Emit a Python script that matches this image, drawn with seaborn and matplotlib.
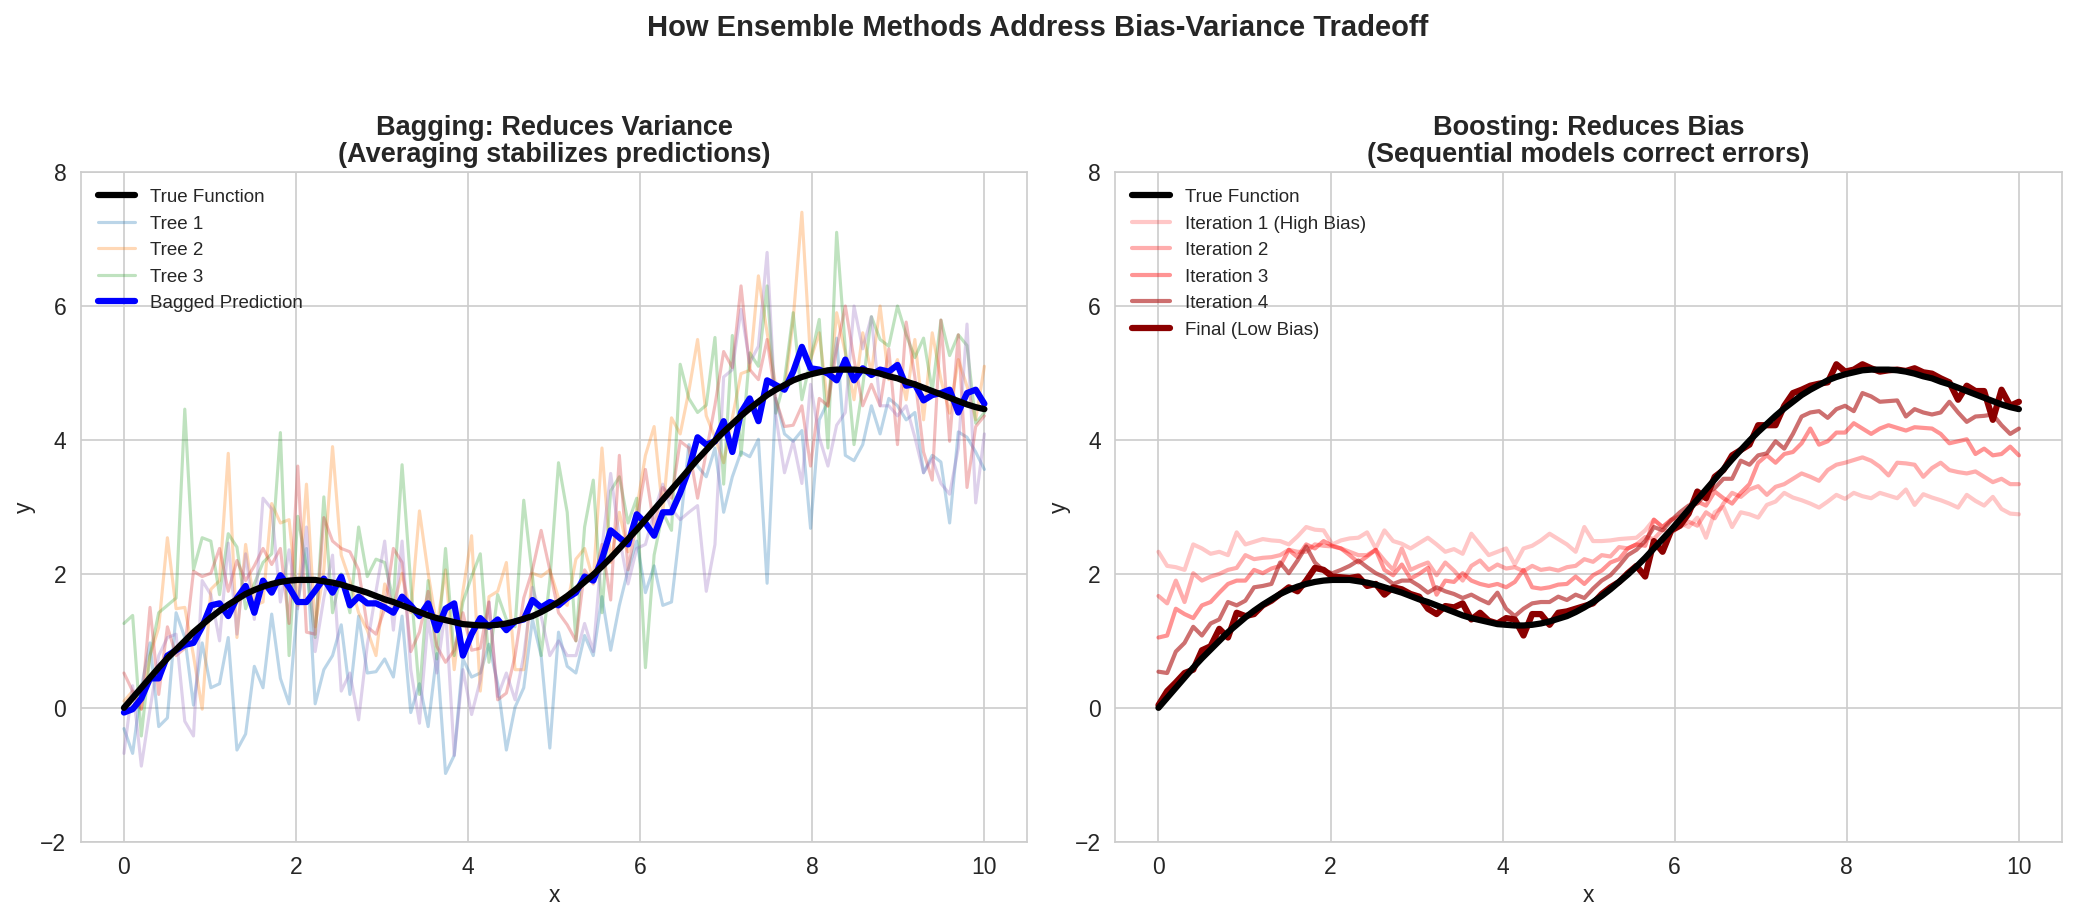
""" Ensemble methods: bagging vs boosting, bias-variance illustration.
"""

###########
# Imports #
###########
import numpy as np
import matplotlib
matplotlib.use("Agg")
from matplotlib import pyplot as plt
import seaborn as sns


########
# Data #
########
# 100 samples over 0..10, shared by every series
x_pts = np.linspace(0, 10, 100)

true_fn = [0.00, 0.15, 0.30, 0.45, 0.60, 0.74, 0.87, 1.00, 1.13, 1.24,
           1.35, 1.45, 1.54, 1.62, 1.70, 1.76, 1.81, 1.85, 1.88, 1.90,
           1.91, 1.91, 1.91, 1.89, 1.87, 1.84, 1.80, 1.76, 1.72, 1.67,
           1.62, 1.58, 1.53, 1.48, 1.43, 1.38, 1.34, 1.31, 1.28, 1.25,
           1.24, 1.23, 1.23, 1.24, 1.26, 1.29, 1.33, 1.37, 1.43, 1.50,
           1.58, 1.67, 1.77, 1.88, 1.99, 2.11, 2.24, 2.38, 2.52, 2.66,
           2.81, 2.96, 3.11, 3.26, 3.41, 3.56, 3.71, 3.85, 3.99, 4.12,
           4.24, 4.36, 4.47, 4.57, 4.67, 4.75, 4.82, 4.89, 4.94, 4.98,
           5.01, 5.04, 5.05, 5.05, 5.05, 5.04, 5.02, 4.99, 4.95, 4.92,
           4.87, 4.83, 4.78, 4.73, 4.68, 4.63, 4.58, 4.53, 4.49, 4.46]

# Bagging: individual trees
tree_1 = [-0.31, -0.68, 0.30, 0.97, -0.28, -0.15, 1.42, 1.05, 0.04, 0.97,
          0.30, 0.36, 1.05, -0.63, -0.39, 0.62, 0.30, 1.40, 0.44, 0.06,
          1.58, 2.38, 0.06, 0.57, 0.78, 1.24, 0.20, 1.37, 0.52, 0.54,
          0.73, 0.46, 1.37, -0.07, 0.36, -0.28, 0.81, -0.98, -0.71, 0.73,
          0.46, 0.52, 0.95, 0.36, -0.63, 0.01, 0.30, 1.32, 0.78, -0.60,
          1.13, 0.62, 0.52, 1.08, 0.78, 1.66, 0.86, 1.53, 2.06, 2.49,
          1.72, 2.12, 1.53, 1.58, 2.70, 3.93, 3.61, 3.45, 3.88, 2.92,
          3.45, 3.82, 3.75, 4.01, 1.86, 4.62, 4.09, 3.98, 4.14, 2.68,
          4.30, 4.57, 5.52, 3.77, 3.69, 3.93, 4.51, 4.09, 4.62, 4.51,
          4.30, 4.41, 3.51, 3.77, 3.67, 2.76, 4.12, 4.04, 3.82, 3.56]

tree_2 = [0.10, 0.25, -0.02, 0.78, 1.20, 2.54, 1.48, 1.50, 0.78, -0.02,
          1.77, 1.90, 3.80, 1.05, 2.44, 1.53, 1.58, 3.05, 2.76, 2.81,
          1.53, 3.34, 1.21, 2.06, 3.90, 2.28, 1.90, 1.42, 1.16, 0.78,
          1.85, 1.53, 2.01, 1.42, 2.94, 2.01, 1.21, 2.06, 0.57, 1.74,
          2.57, 0.25, 1.66, 1.74, 2.17, 0.57, 0.57, 2.01, 1.96, 2.06,
          1.64, 1.53, 2.22, 2.38, 1.90, 3.88, 2.17, 2.92, 2.33, 2.97,
          3.77, 4.20, 2.92, 4.33, 4.09, 4.73, 5.50, 4.36, 4.04, 3.66,
          4.33, 4.99, 5.04, 6.45, 5.60, 4.80, 4.73, 5.80, 7.40, 5.20,
          5.60, 4.50, 5.90, 5.30, 4.60, 5.60, 5.00, 6.00, 4.90, 5.20,
          4.60, 5.50, 4.30, 5.60, 4.90, 4.40, 5.20, 4.80, 4.30, 5.10]

tree_3 = [1.26, 1.38, -0.42, 0.78, 1.42, 1.53, 1.64, 4.46, 2.06, 2.54,
          2.49, 1.69, 2.60, 2.40, 1.48, 1.85, 2.17, 2.30, 4.11, 0.78,
          2.86, 2.10, 1.05, 3.15, 1.42, 2.00, 1.42, 2.70, 1.96, 2.22,
          2.17, 1.60, 3.63, 1.85, 0.20, 1.90, 0.73, 2.38, 0.78, 1.58,
          1.96, 2.30, 0.68, 1.69, 1.32, 1.21, 3.10, 1.96, 0.78, 1.90,
          3.66, 2.92, 1.00, 2.70, 3.40, 1.42, 3.24, 3.45, 2.76, 3.13,
          0.60, 2.28, 2.92, 2.65, 5.13, 4.62, 4.41, 4.52, 5.53, 3.34,
          5.56, 3.77, 5.30, 5.10, 6.30, 4.40, 4.89, 5.90, 4.60, 5.20,
          5.80, 3.88, 7.10, 5.36, 3.93, 4.80, 5.84, 5.50, 5.40, 6.00,
          5.57, 5.23, 5.52, 4.73, 5.79, 5.26, 5.57, 5.41, 4.25, 4.41]

tree_4 = [0.52, 0.25, -0.02, 1.50, 0.20, 1.21, 0.78, 0.89, 2.04, 1.96,
          2.01, 2.38, 1.74, 2.20, 1.90, 2.12, 2.38, 2.14, 2.38, 1.26,
          3.61, 1.13, 1.10, 2.84, 2.49, 2.38, 2.33, 2.06, 1.21, 1.10,
          1.48, 2.38, 2.17, 0.84, 1.13, 1.74, 0.92, 0.68, 0.86, 1.42,
          0.86, 0.89, 1.58, 0.12, 0.22, 0.78, 1.64, 2.06, 2.65, 2.06,
          1.42, 1.24, 1.00, 2.06, 1.85, 2.44, 1.61, 3.77, 2.06, 2.78,
          3.56, 2.70, 3.29, 3.13, 3.98, 3.88, 3.13, 3.82, 4.52, 5.32,
          5.08, 6.30, 5.05, 4.90, 5.50, 4.60, 4.20, 4.22, 4.51, 3.61,
          4.62, 4.51, 5.36, 6.00, 5.20, 4.51, 4.83, 4.51, 5.36, 3.93,
          5.76, 4.94, 3.82, 3.40, 5.79, 3.98, 5.57, 3.29, 4.20, 4.36]

tree_5 = [-0.68, 0.33, -0.87, -0.02, 0.78, 1.05, 1.10, -0.20, -0.42, 1.90,
          1.69, 1.00, 2.46, 1.10, 2.30, 1.32, 3.13, 2.97, 1.58, 2.36,
          1.48, 2.70, 0.84, 1.64, 2.28, 0.25, 0.52, -0.18, 0.94, 1.74,
          2.49, 1.16, 2.49, 0.57, -0.23, 1.32, 0.52, 1.48, -0.71, 0.57,
          -0.10, 0.41, 1.58, 0.17, 0.52, 0.12, 0.78, 1.80, 1.37, 0.78,
          1.00, 0.78, 0.78, 1.26, 0.84, 2.38, 3.50, 2.54, 1.85, 2.38,
          2.44, 2.92, 3.34, 2.97, 2.81, 2.92, 3.02, 1.74, 2.44, 4.94,
          5.05, 5.95, 5.15, 5.40, 6.80, 4.36, 3.51, 3.98, 3.35, 4.83,
          4.04, 3.61, 4.22, 4.41, 6.00, 5.36, 5.84, 4.51, 4.51, 4.36,
          4.51, 4.04, 3.51, 3.72, 3.35, 3.19, 3.88, 5.73, 3.06, 4.09]

bagged = [-0.07, -0.02, 0.14, 0.44, 0.44, 0.78, 0.86, 0.94, 0.97, 1.21,
          1.53, 1.56, 1.37, 1.64, 1.82, 1.42, 1.90, 1.72, 1.98, 1.80,
          1.58, 1.58, 1.75, 1.93, 1.72, 1.96, 1.53, 1.66, 1.56, 1.56,
          1.50, 1.42, 1.66, 1.53, 1.37, 1.56, 1.16, 1.48, 1.56, 0.78,
          1.10, 1.34, 1.21, 1.32, 1.16, 1.29, 1.32, 1.61, 1.50, 1.58,
          1.53, 1.64, 1.72, 1.96, 1.90, 2.22, 2.65, 2.54, 2.44, 2.89,
          2.76, 2.57, 2.92, 2.92, 3.21, 3.56, 4.04, 3.93, 3.98, 4.28,
          3.82, 4.41, 4.62, 4.28, 4.89, 4.82, 4.75, 5.02, 5.39, 5.07,
          5.05, 4.99, 4.89, 5.20, 4.89, 5.07, 4.97, 5.05, 5.02, 5.12,
          4.81, 4.83, 4.59, 4.67, 4.70, 4.75, 4.41, 4.70, 4.75, 4.54]

trees = [tree_1, tree_2, tree_3, tree_4, tree_5]
tree_labels = ['Tree 1', 'Tree 2', 'Tree 3', '_nolegend_', '_nolegend_']

# Boosting: successive iterations
iter_1 = [2.33, 2.12, 2.10, 2.06, 2.44, 2.38, 2.30, 2.33, 2.28, 2.62,
          2.44, 2.48, 2.52, 2.50, 2.49, 2.44, 2.56, 2.70, 2.66, 2.65,
          2.44, 2.50, 2.53, 2.54, 2.62, 2.38, 2.65, 2.49, 2.45, 2.38,
          2.46, 2.54, 2.44, 2.33, 2.37, 2.30, 2.60, 2.44, 2.28, 2.33,
          2.38, 2.14, 2.38, 2.42, 2.50, 2.60, 2.52, 2.44, 2.33, 2.70,
          2.49, 2.49, 2.50, 2.52, 2.53, 2.54, 2.65, 2.81, 2.70, 2.81,
          2.76, 2.70, 2.84, 2.54, 2.92, 3.00, 2.70, 2.92, 2.89, 2.84,
          3.03, 3.08, 3.21, 3.14, 3.10, 3.05, 2.99, 3.08, 3.18, 3.12,
          3.21, 3.16, 3.13, 3.21, 3.17, 3.13, 3.26, 3.03, 3.19, 3.14,
          3.10, 3.05, 2.99, 3.18, 3.09, 3.02, 3.15, 2.97, 2.90, 2.89]

iter_2 = [1.67, 1.56, 1.90, 1.58, 2.01, 1.90, 1.96, 2.00, 2.06, 2.09,
          2.28, 2.22, 2.24, 2.25, 2.28, 2.36, 2.33, 2.33, 2.44, 2.42,
          2.41, 2.38, 2.33, 2.28, 2.28, 2.36, 2.20, 2.06, 2.38, 2.06,
          2.12, 2.17, 1.98, 2.17, 2.05, 1.90, 2.12, 2.20, 2.06, 2.14,
          2.08, 2.10, 2.04, 2.12, 2.06, 2.08, 2.05, 2.10, 2.12, 2.22,
          2.18, 2.28, 2.26, 2.40, 2.38, 2.44, 2.55, 2.52, 2.66, 2.62,
          2.70, 2.78, 2.72, 2.92, 2.83, 3.05, 3.21, 3.15, 3.26, 3.31,
          3.18, 3.30, 3.34, 3.42, 3.50, 3.45, 3.39, 3.55, 3.63, 3.66,
          3.70, 3.74, 3.69, 3.60, 3.47, 3.66, 3.65, 3.63, 3.45, 3.58,
          3.66, 3.55, 3.52, 3.50, 3.53, 3.45, 3.37, 3.42, 3.34, 3.34]

iter_3 = [1.05, 1.08, 1.48, 1.40, 1.34, 1.53, 1.58, 1.72, 1.85, 1.90,
          1.90, 2.06, 2.01, 2.08, 2.12, 2.36, 2.25, 2.44, 2.38, 2.49,
          2.42, 2.38, 2.28, 2.17, 2.26, 2.36, 2.06, 1.98, 2.14, 1.93,
          2.00, 2.09, 1.69, 1.90, 1.88, 2.01, 1.90, 1.85, 1.82, 1.85,
          1.80, 1.88, 2.06, 1.80, 1.78, 1.80, 1.84, 1.85, 1.96, 1.85,
          1.98, 2.05, 2.17, 2.22, 2.38, 2.44, 2.42, 2.81, 2.70, 2.81,
          2.86, 2.92, 3.08, 3.02, 3.23, 3.13, 3.05, 3.21, 3.34, 3.66,
          3.77, 3.66, 3.79, 3.82, 3.95, 4.17, 3.93, 3.98, 4.11, 4.11,
          4.25, 4.17, 4.09, 4.17, 4.22, 4.18, 4.14, 4.19, 4.18, 4.17,
          4.09, 3.95, 3.98, 4.01, 3.79, 3.87, 3.77, 3.79, 3.90, 3.77]

iter_4 = [0.54, 0.52, 0.84, 0.97, 1.21, 1.08, 1.26, 1.32, 1.58, 1.53,
          1.60, 1.80, 1.82, 1.85, 2.17, 2.01, 2.20, 2.41, 2.17, 2.05,
          2.01, 2.06, 2.12, 2.20, 2.10, 2.01, 1.95, 1.85, 1.90, 1.90,
          1.82, 1.72, 1.80, 1.74, 1.70, 1.64, 1.69, 1.62, 1.56, 1.72,
          1.48, 1.37, 1.48, 1.56, 1.58, 1.58, 1.66, 1.61, 1.69, 1.64,
          1.78, 1.90, 1.98, 2.12, 2.28, 2.36, 2.49, 2.70, 2.65, 2.80,
          2.92, 3.02, 3.05, 3.20, 3.28, 3.42, 3.42, 3.69, 3.63, 3.77,
          3.80, 3.98, 3.87, 4.09, 4.35, 4.41, 4.43, 4.33, 4.46, 4.51,
          4.43, 4.70, 4.65, 4.57, 4.58, 4.59, 4.35, 4.46, 4.41, 4.38,
          4.41, 4.57, 4.41, 4.27, 4.35, 4.36, 4.38, 4.22, 4.09, 4.17]

final = [0.04, 0.25, 0.38, 0.52, 0.57, 0.86, 0.92, 1.18, 1.05, 1.42,
         1.37, 1.40, 1.53, 1.60, 1.70, 1.80, 1.74, 1.90, 2.09, 2.06,
         1.96, 1.95, 1.94, 1.96, 1.82, 1.85, 1.69, 1.80, 1.77, 1.70,
         1.66, 1.48, 1.40, 1.52, 1.50, 1.56, 1.32, 1.42, 1.30, 1.26,
         1.34, 1.32, 1.08, 1.40, 1.40, 1.24, 1.42, 1.44, 1.48, 1.52,
         1.56, 1.70, 1.80, 1.88, 2.01, 2.12, 1.96, 2.49, 2.33, 2.65,
         2.72, 2.90, 3.23, 3.13, 3.45, 3.55, 3.77, 3.85, 3.93, 4.22,
         4.22, 4.22, 4.51, 4.70, 4.75, 4.81, 4.84, 4.86, 5.13, 5.02,
         5.05, 5.13, 5.07, 5.02, 5.04, 5.05, 5.03, 5.07, 5.01, 4.99,
         4.92, 4.86, 4.60, 4.81, 4.73, 4.73, 4.30, 4.75, 4.51, 4.57]

iterations = [iter_1, iter_2, iter_3, iter_4]
iter_labels = ['Iteration 1 (High Bias)', 'Iteration 2', 'Iteration 3', 'Iteration 4']
iter_colors = [('red', 0.22), ('red', 0.32), ('red', 0.42), ('firebrick', 0.65)]


#########
# Style #
#########
sns.set_style('whitegrid')
plt.rcParams['font.family'] = ['Liberation Sans', 'DejaVu Sans']


#########
# Plots #
#########
fig, (ax0, ax1) = plt.subplots(nrows=1, ncols=2, figsize=(2075 / 150, 920 / 150), dpi=150)
fig.subplots_adjust(left=0.039, right=0.9937, bottom=0.085, top=0.813, wspace=0.093)

# Bagging
sns.lineplot(ax=ax0, x=x_pts, y=true_fn, color='black', linewidth=3,
             label='True Function', zorder=5)
tab = sns.color_palette('tab10')
for i, (vals, name) in enumerate(zip(trees, tree_labels)):
    sns.lineplot(ax=ax0, x=x_pts, y=vals, color=tab[i], alpha=0.3,
                 linewidth=1.5, label=name)
sns.lineplot(ax=ax0, x=x_pts, y=bagged, color='blue', linewidth=3,
             label='Bagged Prediction', zorder=4)
ax0.set_title('Bagging: Reduces Variance\n(Averaging stabilizes predictions)',
              fontsize=13, fontweight='bold', linespacing=1.05, pad=5)

# Boosting
sns.lineplot(ax=ax1, x=x_pts, y=true_fn, color='black', linewidth=3,
             label='True Function', zorder=5)
for vals, name, (col, a) in zip(iterations, iter_labels, iter_colors):
    sns.lineplot(ax=ax1, x=x_pts, y=vals, color=col, alpha=a,
                 linewidth=2, label=name)
sns.lineplot(ax=ax1, x=x_pts, y=final, color='darkred', linewidth=3,
             label='Final (Low Bias)', zorder=4)
ax1.set_title('Boosting: Reduces Bias\n(Sequential models correct errors)',
              fontsize=13, fontweight='bold', linespacing=1.05, pad=5)

for ax in (ax0, ax1):
    ax.set_xlim(-0.5, 10.5)
    ax.set_ylim(-2, 8)
    ax.set_xticks([0, 2, 4, 6, 8, 10])
    ax.set_yticks([-2, 0, 2, 4, 6, 8])
    ax.tick_params(labelsize=11)
    ax.set_xlabel('x', fontsize=11, labelpad=2)
    ax.set_ylabel('y', fontsize=11, labelpad=2)
    ax.legend(loc='upper left', fontsize=9, frameon=False)

fig.suptitle('How Ensemble Methods Address Bias-Variance Tradeoff',
             fontsize=14, fontweight='bold', y=0.985)

fig.savefig('out.png', dpi=150)
